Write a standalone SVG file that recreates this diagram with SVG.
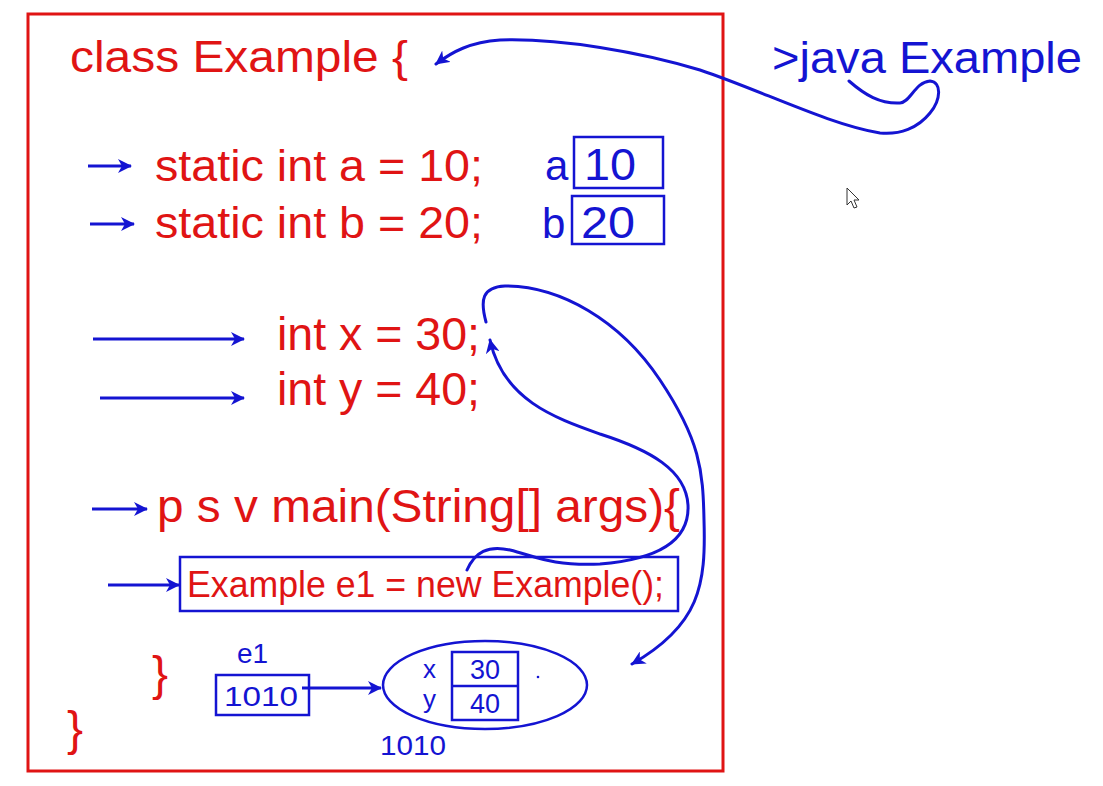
<svg xmlns="http://www.w3.org/2000/svg" width="1103" height="786" viewBox="0 0 1103 786">
<style>
.red{fill:#e01414;font-family:"Liberation Sans",Arial,sans-serif}
.blue{fill:#1414d2;font-family:"Liberation Sans",Arial,sans-serif}
.box{fill:none;stroke:#1414d2;stroke-width:2.5}
.arr{fill:none;stroke:#1414d2;stroke-width:3;marker-end:url(#ah)}
.hand{fill:none;stroke:#1414d2;stroke-width:3;stroke-linecap:round;stroke-linejoin:round}
</style>
<defs>
<marker id="ah" markerUnits="userSpaceOnUse" markerWidth="16" markerHeight="14" refX="13" refY="7" orient="auto">
<path d="M0,0 L14,7 L0,14 L4,7 Z" fill="#1414d2"/>
</marker>
</defs>
<rect width="1103" height="786" fill="#ffffff"/>
<rect id="frame" x="28" y="14" width="695" height="757" fill="none" stroke="#e01414" stroke-width="3"/>

<g id="class-line"><text class="red" x="70" y="72" font-size="45" textLength="338" lengthAdjust="spacingAndGlyphs">class Example {</text></g>
<g id="cmd"><text class="blue" x="772" y="73" font-size="45" textLength="310" lengthAdjust="spacingAndGlyphs">&gt;java Example</text></g>

<g id="static-a">
<text class="red" x="155" y="181" font-size="45" textLength="328" lengthAdjust="spacingAndGlyphs">static int a = 10;</text>
<text class="blue" x="545" y="180" font-size="42">a</text>
<rect class="box" x="574" y="137" width="89" height="51"/>
<text class="blue" x="584" y="180" font-size="44" textLength="52" lengthAdjust="spacingAndGlyphs">10</text>
</g>
<g id="static-b">
<text class="red" x="155" y="238" font-size="45" textLength="328" lengthAdjust="spacingAndGlyphs">static int b = 20;</text>
<text class="blue" x="542" y="238" font-size="42">b</text>
<rect class="box" x="572" y="196" width="92" height="48"/>
<text class="blue" x="581" y="238" font-size="44" textLength="54" lengthAdjust="spacingAndGlyphs">20</text>
</g>
<g id="int-x"><text class="red" x="277" y="350" font-size="46" textLength="203" lengthAdjust="spacingAndGlyphs">int x = 30;</text></g>
<g id="int-y"><text class="red" x="277" y="405" font-size="46" textLength="203" lengthAdjust="spacingAndGlyphs">int y = 40;</text></g>
<g id="main"><text class="red" x="157" y="522" font-size="46" textLength="523" lengthAdjust="spacingAndGlyphs">p s v main(String[] args){</text></g>
<g id="new-stmt">
<rect class="box" x="180" y="557" width="498" height="54"/>
<text class="red" x="187" y="597" font-size="36" textLength="477" lengthAdjust="spacingAndGlyphs">Example e1 = new Example();</text>
</g>
<g id="close-main"><text class="red" x="152" y="690" font-size="48">}</text></g>
<g id="close-class"><text class="red" x="67" y="745" font-size="48">}</text></g>

<g id="e1">
<text class="blue" x="237" y="663" font-size="28">e1</text>
<rect class="box" x="216" y="675" width="93" height="40"/>
<text class="blue" x="224" y="706" font-size="28" textLength="74" lengthAdjust="spacingAndGlyphs">1010</text>
</g>
<g id="object">
<ellipse cx="485" cy="685" rx="102" ry="44" fill="none" stroke="#1414d2" stroke-width="2.5"/>
<rect class="box" x="452" y="652" width="66" height="68"/>
<line x1="452" y1="686" x2="518" y2="686" stroke="#1414d2" stroke-width="2.5"/>
<text class="blue" x="423" y="678" font-size="26">x</text>
<text class="blue" x="423" y="708" font-size="26">y</text>
<text class="blue" x="470" y="679" font-size="27">30</text>
<text class="blue" x="470" y="713" font-size="27">40</text>
<circle cx="538" cy="677" r="1.3" fill="#1414d2"/>
<text class="blue" x="380" y="755" font-size="28" textLength="66" lengthAdjust="spacingAndGlyphs">1010</text>
</g>

<g id="connectors">
<line class="arr" x1="88" y1="166" x2="131" y2="166"/>
<line class="arr" x1="90" y1="224" x2="134" y2="224"/>
<line class="arr" x1="93" y1="339" x2="244" y2="339"/>
<line class="arr" x1="100" y1="398" x2="244" y2="398"/>
<line class="arr" x1="92" y1="509" x2="147" y2="509"/>
<line class="arr" x1="108" y1="585" x2="179" y2="585"/>
<line class="arr" x1="302" y1="688" x2="381" y2="688"/>
<path class="hand" style="marker-end:url(#ah)" d="M849,81 C865,95 880,104 900,103 C910,103 915,82 930,81 C942,82 941,100 930,113 C918,128 900,135 880,133 C830,125 760,90 700,70 C640,52 560,38 500,40 C470,42 452,52 436,64"/>
<path class="hand" style="marker-end:url(#ah)" d="M467,570 C475,552 488,545 510,550 C535,556 550,566 600,564 C650,560 690,545 688,505 C686,470 650,450 600,434 C555,418 503,400 490,340"/>
<path class="hand" style="marker-end:url(#ah)" d="M486,322 C480,300 482,287 505,286 C560,286 620,320 660,380 C700,440 703,470 704,520 C706,585 700,625 632,664"/>
</g>

<g id="cursor"><path d="M847,188 L847,205 L851,201 L854,208 L857,207 L854,200 L859,200 Z" fill="#ffffff" stroke="#333333" stroke-width="1"/></g>
</svg>
